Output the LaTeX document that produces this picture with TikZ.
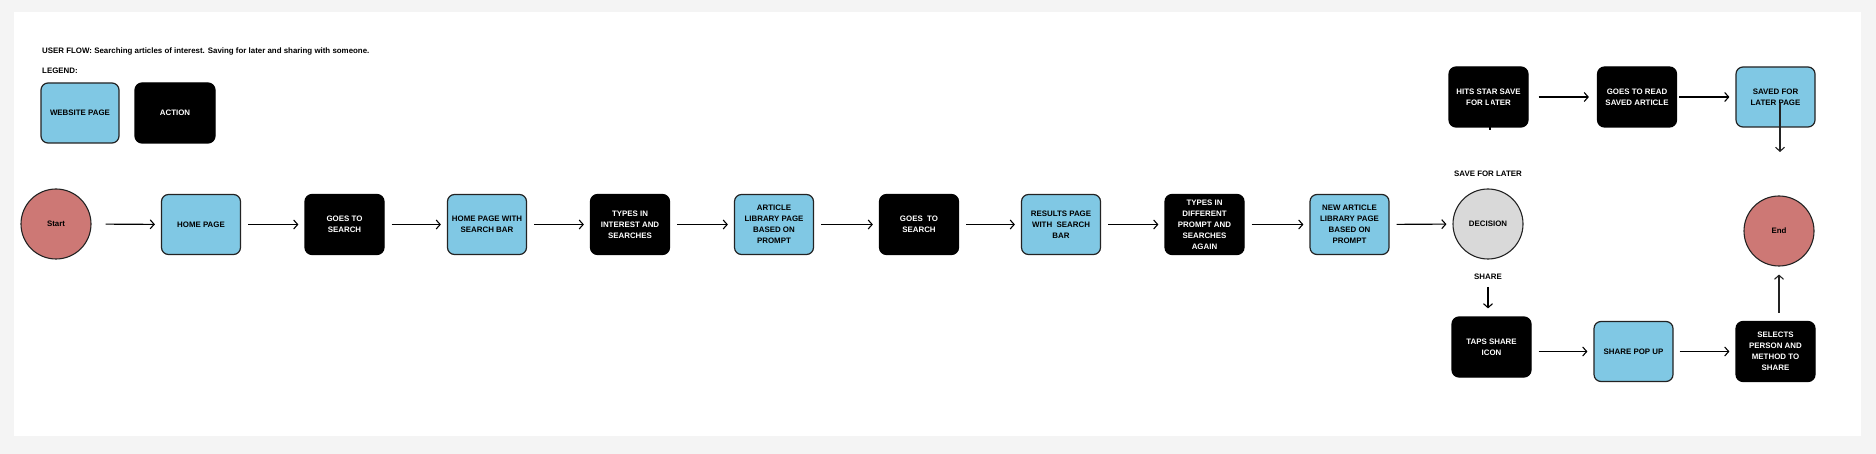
\documentclass[tikz,border=0pt]{standalone}
\usepackage{fontspec}
\setmainfont{Liberation Sans}
\usetikzlibrary{arrows.meta}
\definecolor{pageblue}{RGB}{128,200,228}
\definecolor{termred}{RGB}{205,120,117}
\definecolor{decgray}{RGB}{217,217,217}
\definecolor{edge}{RGB}{35,35,35}
\definecolor{bggray}{RGB}{244,244,244}
\tikzset{
  boxbase/.style={rectangle, rounded corners=7pt, line width=1.2pt, minimum width=79pt, minimum height=60pt, align=center, inner sep=1pt, font=\fontsize{7.9}{11.1}\selectfont\bfseries},
  pagebox/.style={boxbase, fill=pageblue, draw=edge, text=black},
  actbox/.style={boxbase, fill=black, draw=black, text=white},
  termnode/.style={circle, minimum size=70pt, inner sep=0pt, line width=1.1pt, draw=edge, fill=termred, font=\fontsize{7.9}{9}\selectfont\bfseries},
  decnode/.style={circle, minimum size=70pt, inner sep=0pt, line width=1.1pt, draw=edge, fill=decgray, font=\fontsize{7.9}{9}\selectfont\bfseries},
  lbl/.style={font=\fontsize{7.9}{9}\selectfont\bfseries, inner sep=1pt},
  arr/.style={line width=1.1pt, draw=black, -{Straight Barb[length=4pt,width=9pt,line width=1.1pt]}},
  gap/.style={shorten <=7pt, shorten >=6pt},
}
\begin{document}
\begin{tikzpicture}[x=1pt,y=-1pt]
\useasboundingbox (0,0) rectangle (1876,454);
\fill[bggray] (0,0) rectangle (1876,454);
\fill[white] (14,12) rectangle (1861,436);

% header and legend
\node[lbl, anchor=west] (title) at (41,51) {USER FLOW: Searching articles of interest. Saving for later and sharing with someone.};
\node[lbl, anchor=west] (legend) at (41,71) {LEGEND:};
\node[pagebox, minimum width=78pt] (lgpage) at (80,113) {WEBSITE PAGE};
\node[actbox, minimum width=80pt] (lgact) at (175,113) {ACTION};

% main row
\node[termnode] (start) at (56,224) {Start};
\node[pagebox] (home) at (201,224.5) {HOME PAGE};
\node[actbox] (goes1) at (344.5,224.5) {GOES TO\\SEARCH};
\node[pagebox] (hpsb) at (487,224.5) {HOME PAGE WITH\\SEARCH BAR};
\node[actbox] (types1) at (630,224.5) {TYPES IN\\INTEREST AND\\SEARCHES};
\node[pagebox] (article) at (774,224.5) {ARTICLE\\LIBRARY PAGE\\BASED ON\\PROMPT};
\node[actbox] (goes2) at (919,224.5) {GOES\ \ TO\\SEARCH};
\node[pagebox] (results) at (1061,224.5) {RESULTS PAGE\\WITH\ \ SEARCH\\BAR};
\node[actbox] (types2) at (1204.5,224.5) {TYPES IN\\DIFFERENT\\PROMPT AND\\SEARCHES\\AGAIN};
\node[pagebox] (newart) at (1349.5,224.5) {NEW ARTICLE\\LIBRARY PAGE\\BASED ON\\PROMPT};
\node[decnode] (decision) at (1488,224) {DECISION};

\draw[arr, shorten <=14pt, shorten >=6pt] (start) -- (home);
\draw[arr, gap] (home) -- (goes1);
\draw[arr, gap] (goes1) -- (hpsb);
\draw[arr, gap] (hpsb) -- (types1);
\draw[arr, gap] (types1) -- (article);
\draw[arr, gap] (article) -- (goes2);
\draw[arr, gap] (goes2) -- (results);
\draw[arr, gap] (results) -- (types2);
\draw[arr, gap] (types2) -- (newart);
\draw[arr, gap] (newart) -- (decision);

% save for later branch
\node[lbl] (savelbl) at (1488,174) {SAVE FOR LATER};
\node[actbox] (hits) at (1488.5,97) {HITS STAR SAVE\\FOR LATER};
\node[actbox] (goesread) at (1637,97) {GOES TO READ\\SAVED ARTICLE};
\node[pagebox] (savedpage) at (1775.5,97) {SAVED FOR\\LATER PAGE};
\draw[arr, shorten <=10pt, shorten >=8pt] (hits) -- (goesread);
\draw[arr, shorten <=2pt, shorten >=6pt] (goesread) -- (savedpage);
\coordinate (hitstop) at (1490,95);
\coordinate (hitsbot) at (1490,130);
\draw[line width=1.1pt, black] (hitstop) -- (hitsbot);
\coordinate (savedrop) at (1780,152);
\coordinate (savedsrc) at (1780,103);
\draw[arr, draw=edge] (savedsrc) -- (savedrop);

% share branch
\node[lbl] (sharelbl) at (1488,277) {SHARE};
\node[actbox] (taps) at (1491.5,347) {TAPS SHARE\\ICON};
\node[pagebox] (sharepop) at (1633.5,351.5) {SHARE POP UP};
\node[actbox] (selects) at (1775.5,351.5) {SELECTS\\PERSON AND\\METHOD TO\\SHARE};
\node[termnode] (end) at (1779,231) {End};
\draw[arr, shorten <=6pt, shorten >=8pt] (sharelbl) -- (sharelbl |- taps.north);
\draw[arr, shorten <=7pt, shorten >=6pt] (taps.east |- sharepop) -- (sharepop.west);
\draw[arr, shorten <=6pt, shorten >=6pt] (sharepop) -- (selects);
\draw[arr, draw=edge, shorten <=8pt, shorten >=8pt] (end |- selects.north) -- (end.south);
\end{tikzpicture}
\end{document}
